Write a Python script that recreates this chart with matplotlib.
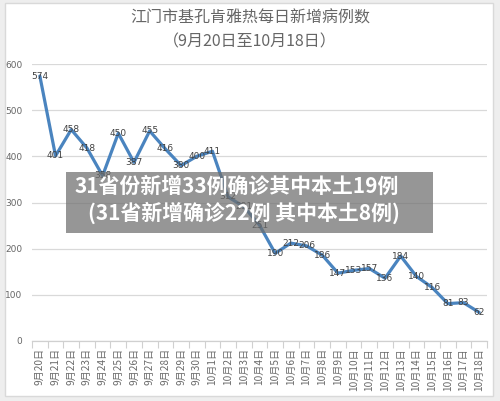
import matplotlib
matplotlib.use("Agg")
import matplotlib.pyplot as plt
from matplotlib.patches import Rectangle
import numpy as np

plt.rcParams['font.family'] = ['Noto Sans CJK SC', 'DejaVu Sans']

dates = ["9月20日", "9月21日", "9月22日", "9月23日", "9月24日", "9月25日", "9月26日",
         "9月27日", "9月28日", "9月29日", "9月30日", "10月1日", "10月2日", "10月3日",
         "10月4日", "10月5日", "10月6日", "10月7日", "10月8日", "10月9日", "10月10日",
         "10月11日", "10月12日", "10月13日", "10月14日", "10月15日", "10月16日",
         "10月17日", "10月18日"]
cases = [574, 401, 458, 418, 358, 450, 387, 455, 416, 380, 400, 411, 312, 291,
         251, 190, 212, 206, 186, 147, 153, 157, 136, 184, 140, 116, 81, 83, 62]
yticks = [0, 100, 200, 300, 400, 500, 600]
title1 = "江门市基孔肯雅热每日新增病例数"
title2 = "（9月20日至10月18日）"
overlay1 = "31省份新增33例确诊其中本土19例"
overlay2 = "(31省新增确诊22例 其中本土8例)"

W, H = 500, 401
fig = plt.figure(figsize=(W / 100, H / 100), dpi=100, facecolor="#eeeeee")

# chart area frame
fig.patches.append(Rectangle((5 / W, 1 - 396 / H), 488 / W, 393 / H,
                             transform=fig.transFigure, facecolor="white",
                             edgecolor="#d9d9d9", linewidth=1, zorder=-5))

ax = fig.add_axes([32 / W, 1 - 341 / H, 455 / W, 277 / H])
ax.set_zorder(1)
ax.set_facecolor("none")
x = np.arange(len(cases))
ax.plot(x, cases, color="#4a84bf", linewidth=2.3, solid_capstyle="round", zorder=3)
for xi, v in zip(x, cases):
    ax.text(xi, v, str(v), ha="center", va="center", fontsize=6.5,
            color="#404040", zorder=4, family=["DejaVu Sans"])

ax.set_xlim(-0.5, len(cases) - 0.5)
ax.set_ylim(0, 600)
ax.set_yticks(yticks)
ax.set_yticklabels([str(t) for t in yticks], fontsize=6.5, color="#666666",
                   family=["DejaVu Sans"])
ax.tick_params(axis="y", length=0, pad=7)
ax.grid(axis="y", color="#d9d9d9", linewidth=0.9)
ax.set_axisbelow(True)
for s in ["top", "right", "left"]:
    ax.spines[s].set_visible(False)
ax.spines["bottom"].set_color("#d0d0d0")
ax.spines["bottom"].set_linewidth(0.9)

ax.set_xticks(x)
ax.set_xticklabels(dates, rotation=90, fontsize=7.3, color="#6a6a6a")
ax.tick_params(axis="x", length=0, pad=5)
ax.set_xticks(np.arange(-0.5, len(cases) + 0.5, 1), minor=True)
ax.tick_params(axis="x", which="minor", length=5, color="#d0d0d0", width=0.8)

fig.text(0.5, 1 - 18 / H, title1, ha="center", va="center", fontsize=11.5,
         color="#666666")
fig.text(0.5, 1 - 42 / H, title2, ha="center", va="center", fontsize=11.5,
         color="#666666")

# overlay banner
fig.patches.append(Rectangle((66 / W, 1 - 233 / H), 367 / W, 61 / H,
                             transform=fig.transFigure, facecolor="#6e6e6e",
                             alpha=0.72, edgecolor="none", zorder=10))
fig.text(75 / W, 1 - 186 / H, overlay1, ha="left", va="center", fontsize=15,
         color="white", fontweight="heavy", zorder=11)
fig.text(88 / W, 1 - 213 / H, overlay2, ha="left", va="center", fontsize=15,
         color="white", fontweight="heavy", zorder=11)

fig.savefig("out.png", dpi=100, facecolor=fig.get_facecolor())
